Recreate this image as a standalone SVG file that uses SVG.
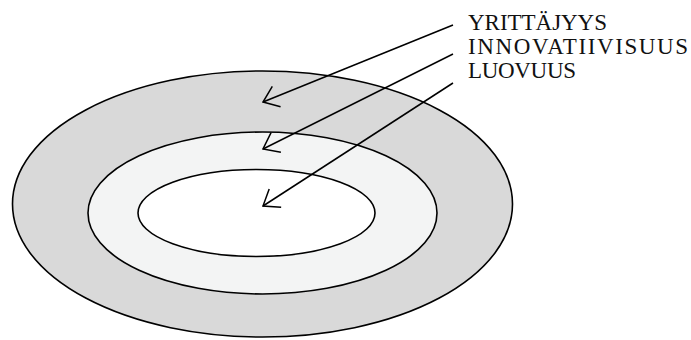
<svg xmlns="http://www.w3.org/2000/svg" width="691" height="340" viewBox="0 0 691 340">
<defs>
<style>
.ring{stroke:#000;stroke-width:1.6}
.conn{stroke:#000;stroke-width:1.5;fill:none}
.lbl{font-family:"Liberation Serif","Times New Roman",serif;font-size:23px;fill:#111}
</style>
<marker id="open" viewBox="0 0 20 24" refX="19" refY="12" markerWidth="20" markerHeight="24" markerUnits="userSpaceOnUse" orient="auto">
<path d="M4.5,1 L19,12 L4.5,23" fill="none" stroke="#000" stroke-width="1.5"/>
</marker>
</defs>
<rect width="691" height="340" fill="#fff"/>
<g id="yrittajyys">
<ellipse class="ring" cx="262.5" cy="204" rx="250" ry="133" fill="#d9d9d9"/>
<text class="lbl" x="468" y="30" textLength="139">YRITTÄJYYS</text>
</g>
<g id="innovatiivisuus">
<ellipse class="ring" cx="262.5" cy="213" rx="174.5" ry="81" fill="#f3f4f4"/>
<text class="lbl" x="468" y="54" textLength="220">INNOVATIIVISUUS</text>
</g>
<g id="luovuus">
<ellipse class="ring" cx="256.5" cy="213" rx="118.5" ry="43.5" fill="#fff"/>
<text class="lbl" x="468" y="78" textLength="108">LUOVUUS</text>
</g>
<g id="connectors">
<line class="conn" x1="453" y1="25" x2="263" y2="102" marker-end="url(#open)"/>
<line class="conn" x1="453" y1="54" x2="263" y2="149" marker-end="url(#open)"/>
<line class="conn" x1="453" y1="83" x2="263" y2="206" marker-end="url(#open)"/>
</g>
</svg>
